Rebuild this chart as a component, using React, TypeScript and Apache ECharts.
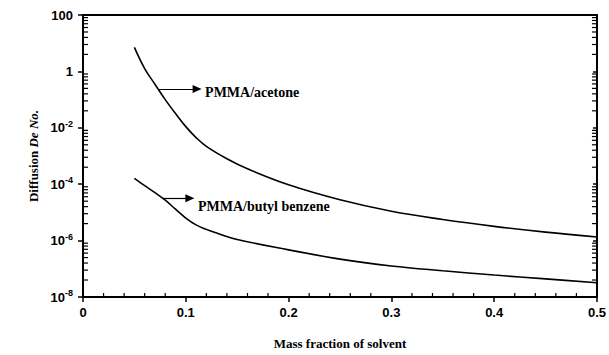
import React, { useEffect, useRef } from "react";
import * as echarts from "echarts";

// Mass fraction of solvent (x) and diffusion Deborah number (y)
const acetoneX = [0.05, 0.06, 0.07, 0.08, 0.09, 0.1, 0.11, 0.12, 0.14, 0.16, 0.2, 0.25, 0.3, 0.35, 0.4, 0.45, 0.5];
const acetoneDe = [7.1, 1.26, 0.35, 0.1, 0.032, 0.011, 4.5e-3, 2.2e-3, 8e-4, 3.5e-4, 9.5e-5, 2.8e-5, 1.1e-5, 5.6e-6, 3.2e-6, 2e-6, 1.35e-6];

const butylX = [0.05, 0.06, 0.07, 0.08, 0.09, 0.1, 0.11, 0.12, 0.13, 0.15, 0.2, 0.25, 0.3, 0.35, 0.4, 0.45, 0.5];
const butylDe = [1.6e-4, 8.9e-5, 5e-5, 2.7e-5, 1.3e-5, 6.3e-6, 3.6e-6, 2.5e-6, 1.85e-6, 1.1e-6, 4.7e-7, 2.2e-7, 1.26e-7, 8.5e-8, 6e-8, 4.4e-8, 3.2e-8];

// exponents of the labelled y ticks
const yExponents = [-8, -6, -4, -2, 0, 2];
const xTicks = ["0", "0.1", "0.2", "0.3", "0.4", "0.5"];

// annotation arrows: [xStart, xEnd, De]
const acetoneArrow = [0.073, 0.111, 0.24];
const butylArrow = [0.078, 0.104, 3.2e-5];

const serif = "Liberation Serif";
const sans = "Liberation Sans";

function toLog(xs: number[], ys: number[]) {
  return xs.map((x, i) => [x, Math.log10(ys[i])]);
}

// minor ticks within each two-decade block
function yMinorTicks() {
  const out: number[][] = [];
  for (let e = yExponents[0]; e < yExponents[yExponents.length - 1]; e += 2) {
    for (let k = 2; k <= 9; k++) out.push([0, e + 2 * Math.log10(k)]);
  }
  return out;
}
function xMinorTicks() {
  const out: number[][] = [];
  for (let i = 0; i < 25; i++) {
    if (i % 5 !== 0) out.push([i * 0.02, -8]);
  }
  return out;
}

function arrowLine(arrow: number[], text: string, dy: number) {
  const y = Math.log10(arrow[2]);
  return {
    silent: true,
    symbol: ["none", "triangle"],
    symbolSize: [8, 9],
    symbolRotate: -90,
    lineStyle: { color: "#000", type: "solid", width: 1.2 },
    emphasis: { disabled: true },
    label: {
      show: true,
      position: "end",
      distance: 8,
      formatter: text,
      color: "#000",
      fontFamily: serif,
      fontWeight: "bold",
      fontSize: 14,
      offset: [0, dy],
    },
    data: [[{ coord: [arrow[0], y] }, { coord: [arrow[1], y] }]],
  };
}

export default function App() {
  const ref = useRef<HTMLDivElement>(null);
  useEffect(() => {
    if (!ref.current) return;
    const chart = echarts.init(ref.current, undefined, { renderer: "svg" });
    const axisLine = { show: true, onZero: false, lineStyle: { color: "#000", width: 2 } };
    chart.setOption({
      animation: false,
      backgroundColor: "#fff",
      grid: { left: 83, right: 12, top: 15, bottom: 58 },
      xAxis: [
        {
          type: "value",
          min: 0,
          max: 0.5,
          interval: 0.1,
          axisLine,
          axisTick: { show: true, inside: false, length: 5, lineStyle: { color: "#000", width: 1.5 } },
          axisLabel: {
            margin: 9,
            color: "#000",
            fontFamily: sans,
            fontWeight: "bold",
            fontSize: 13,
            formatter: (v: number) => xTicks[Math.round(v * 10)] ?? "",
          },
          splitLine: { show: false },
          name: "Mass fraction of solvent",
          nameLocation: "middle",
          nameGap: 40,
          nameTextStyle: { color: "#000", fontFamily: serif, fontWeight: "bold", fontSize: 13 },
        },
        {
          type: "value",
          min: 0,
          max: 0.5,
          position: "top",
          axisLine,
          axisTick: { show: false },
          axisLabel: { show: false },
          splitLine: { show: false },
        },
      ],
      yAxis: [
        {
          type: "value",
          min: -8,
          max: 2,
          interval: 2,
          axisLine,
          axisTick: { show: true, inside: false, length: 5, lineStyle: { color: "#000", width: 1.5 } },
          axisLabel: {
            margin: 10,
            color: "#000",
            fontFamily: sans,
            fontWeight: "bold",
            fontSize: 13,
            formatter: (v: number) => (v === 2 ? "100" : v === 0 ? "1" : `10{sup|${v}}`),
            rich: {
              sup: { fontFamily: sans, fontWeight: "bold", fontSize: 9, color: "#000", padding: [0, 0, 8, 0] },
            },
          },
          splitLine: { show: false },
          name: "Diffusion {i|De No.}",
          nameLocation: "middle",
          nameGap: 40,
          nameTextStyle: {
            color: "#000",
            fontFamily: serif,
            fontWeight: "bold",
            fontSize: 13,
            rich: { i: { fontFamily: serif, fontStyle: "italic", fontSize: 13, color: "#000" } },
          },
        },
        {
          type: "value",
          min: -8,
          max: 2,
          interval: 2,
          position: "right",
          axisLine,
          axisTick: { show: true, inside: true, length: 4, lineStyle: { color: "#000", width: 1.5 } },
          axisLabel: { show: false },
          splitLine: { show: false },
        },
      ],
      series: [
        {
          type: "line",
          data: toLog(acetoneX, acetoneDe),
          smooth: 0.4,
          showSymbol: false,
          lineStyle: { color: "#000", width: 1.6 },
          silent: true,
          markLine: arrowLine(acetoneArrow, "PMMA/acetone", 4),
        },
        {
          type: "line",
          data: toLog(butylX, butylDe),
          smooth: 0.4,
          showSymbol: false,
          lineStyle: { color: "#000", width: 1.6 },
          silent: true,
          markLine: arrowLine(butylArrow, "PMMA/butyl benzene", 8),
        },
        {
          type: "custom",
          coordinateSystem: "cartesian2d",
          silent: true,
          clip: false,
          encode: { x: 0, y: 1 },
          data: yMinorTicks(),
          renderItem: (_p: any, api: any) => {
            const v = api.value(1);
            const l = api.coord([0, v]);
            const r = api.coord([0.5, v]);
            return {
              type: "group",
              children: [
                { type: "line", shape: { x1: l[0], y1: l[1], x2: l[0] + 5, y2: l[1] }, style: { stroke: "#000", lineWidth: 1.2 } },
                { type: "line", shape: { x1: r[0] - 5, y1: r[1], x2: r[0], y2: r[1] }, style: { stroke: "#000", lineWidth: 1.2 } },
              ],
            };
          },
        },
        {
          type: "custom",
          coordinateSystem: "cartesian2d",
          silent: true,
          clip: false,
          encode: { x: 0, y: 1 },
          data: xMinorTicks(),
          renderItem: (_p: any, api: any) => {
            const p = api.coord([api.value(0), -8]);
            return {
              type: "line",
              shape: { x1: p[0], y1: p[1], x2: p[0], y2: p[1] - 4 },
              style: { stroke: "#000", lineWidth: 1.2 },
            };
          },
        },
      ],
    });
    return () => chart.dispose();
  }, []);
  return (
    <div
      ref={ref}
      style={{ position: "absolute", left: 0, top: 0, width: 609, height: 355, background: "#fff" }}
    />
  );
}
